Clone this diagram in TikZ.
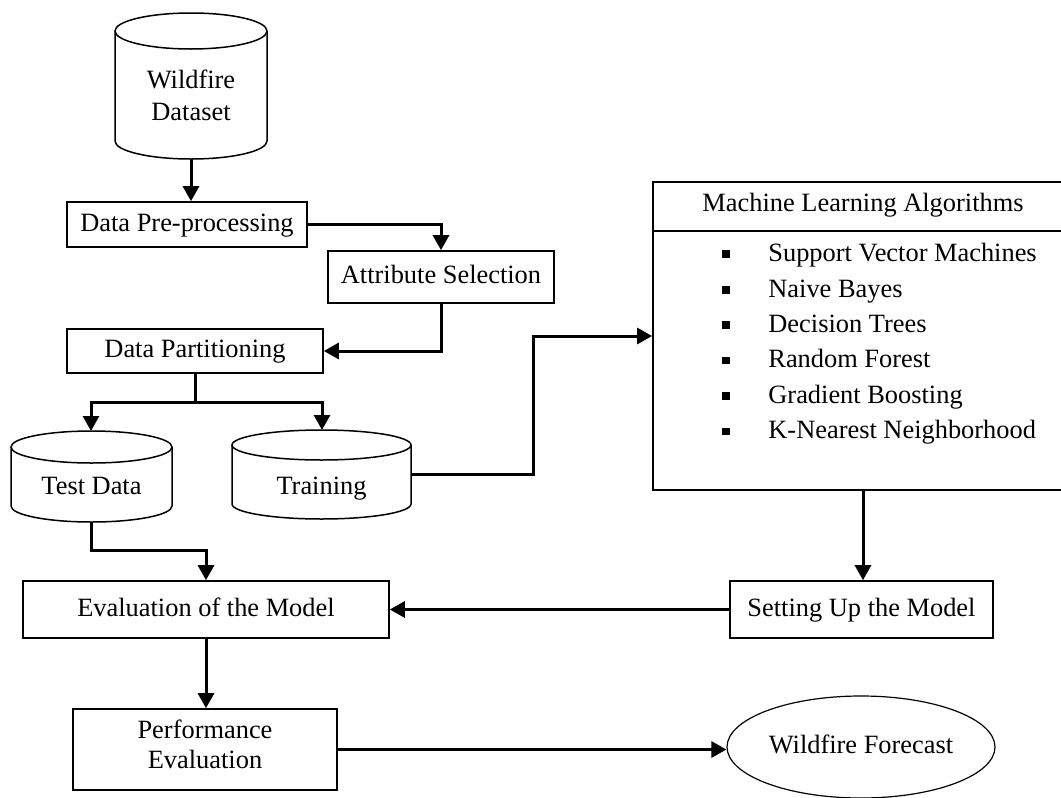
\documentclass[tikz,border=0pt]{standalone}
\usepackage{fontspec}
\setmainfont{Liberation Serif}
\usetikzlibrary{arrows.meta,shapes.geometric,calc}
\tikzset{
  txt/.style={font=\fontsize{13.2}{16}\selectfont, inner sep=0pt, align=center},
  onetxt/.style={txt, text height=9.5pt, text depth=3pt},
  boxnode/.style={onetxt, draw, line width=0.8pt, rectangle},
  cylline/.style={line width=0.75pt},
  conn/.style={line width=1.5pt},
  arr/.style={conn, -{Triangle[length=7.5pt,width=8pt]}},
  bulletsq/.style={fill=black, inner sep=0pt, minimum width=3.6pt, minimum height=3.6pt},
  itemtxt/.style={font=\fontsize{13.2}{16}\selectfont, inner sep=0pt, anchor=base west}
}
\begin{document}
\begin{tikzpicture}[x=0.5pt,y=-0.5pt]
\useasboundingbox (0,0) rectangle (1061,798);
\fill[white] (0,0) rectangle (1061,798);

% cylinders
\draw[cylline] (115,31) -- (115,141) arc[start angle=180,end angle=360,x radius=38pt,y radius=9pt] -- (267,31);
\draw[cylline] (191,31) ellipse[x radius=38pt, y radius=9pt];
\node[txt] (data) at (191,95) {Wildfire\\Dataset};
\coordinate (data-b) at (191,159);

\draw[cylline] (11,447) -- (11,506) arc[start angle=180,end angle=360,x radius=40.25pt,y radius=8pt] -- (172,447);
\draw[cylline] (91.5,447) ellipse[x radius=40.25pt, y radius=8pt];
\node[onetxt] (test) at (91.5,488) {Test Data};
\coordinate (test-t) at (91,431);
\coordinate (test-b) at (91,522);

\draw[cylline] (232,445) -- (232,504) arc[start angle=180,end angle=360,x radius=44.75pt,y radius=7.5pt] -- (411,445);
\draw[cylline] (321.5,445) ellipse[x radius=44.75pt, y radius=7.5pt];
\node[onetxt] (train) at (321.5,488) {Training};
\coordinate (train-t) at (322,430);
\coordinate (train-r) at (411,474);

% boxes
\node[boxnode, minimum width=120pt, minimum height=22.5pt] (pre) at (187,224.5) {Data Pre-processing};
\node[boxnode, minimum width=113pt, minimum height=26pt] (attr) at (441,277) {Attribute Selection};
\node[boxnode, minimum width=128pt, minimum height=22pt] (part) at (195,351) {Data Partitioning};
\node[boxnode, minimum width=183pt, minimum height=28.5pt] (eval) at (206,609.5) {Evaluation of the Model};
\node[boxnode, minimum width=131.5pt, minimum height=28.5pt] (setup) at (861.5,609.5) {Setting Up the Model};
\node[draw, line width=0.8pt, rectangle, inner sep=0pt, minimum width=132pt, minimum height=40.5pt] (perf) at (205,749.5) {};
\node[txt, font=\fontsize{13.2}{15}\selectfont] (perftext) at (205,744) {Performance\\Evaluation};
\node[onetxt, draw, line width=0.6pt, ellipse, minimum width=134pt, minimum height=51pt] (fore) at (861,747) {Wildfire Forecast};

% ML box
\node[draw, line width=0.9pt, rectangle, inner sep=0pt, minimum width=220pt, minimum height=154pt] (ml) at (873,336) {};
\node[onetxt] (mlhead) at (863,205) {Machine Learning Algorithms};
\coordinate (divl) at (653,231);
\coordinate (divr) at (1093,231);
\draw[line width=0.8pt] (divl) -- (divr);

\foreach \i/\t/\yb in {1/Support Vector Machines/261, 2/Naive Bayes/297, 3/Decision Trees/332, 4/Random Forest/367.5, 5/Gradient Boosting/403, 6/K-Nearest Neighborhood/438.5}{
  \node[bulletsq] (b\i) at (726,\yb-7) {};
  \node[itemtxt] (it\i) at (768,\yb) {\t};
}

% connectors
\coordinate (split) at (195,402);
\coordinate (bend) at (533,474);
\coordinate (tb2) at (91,550);
\coordinate (mlb) at (863,490);

\draw[arr] (data-b) -- (data-b |- pre.north);
\draw[arr] (pre.east) -| (attr.north);
\draw[arr] (attr.south) |- (part.east);
\draw[conn] (part.south) -- (split);
\draw[arr] (split) -| (test-t);
\draw[arr] (split) -| (train-t);
\draw[arr] (train-r) -- (bend) |- (ml.west);
\draw[arr] (mlb) -- (mlb |- setup.north);
\draw[arr] (test-b) -- (tb2) -| (eval.north);
\draw[arr] (setup.west) -- (eval.east);
\draw[arr] (eval.south) -- (eval.south |- perf.north);
\draw[arr] (perf.east) -- (perf.east -| fore.west);
\end{tikzpicture}
\end{document}
